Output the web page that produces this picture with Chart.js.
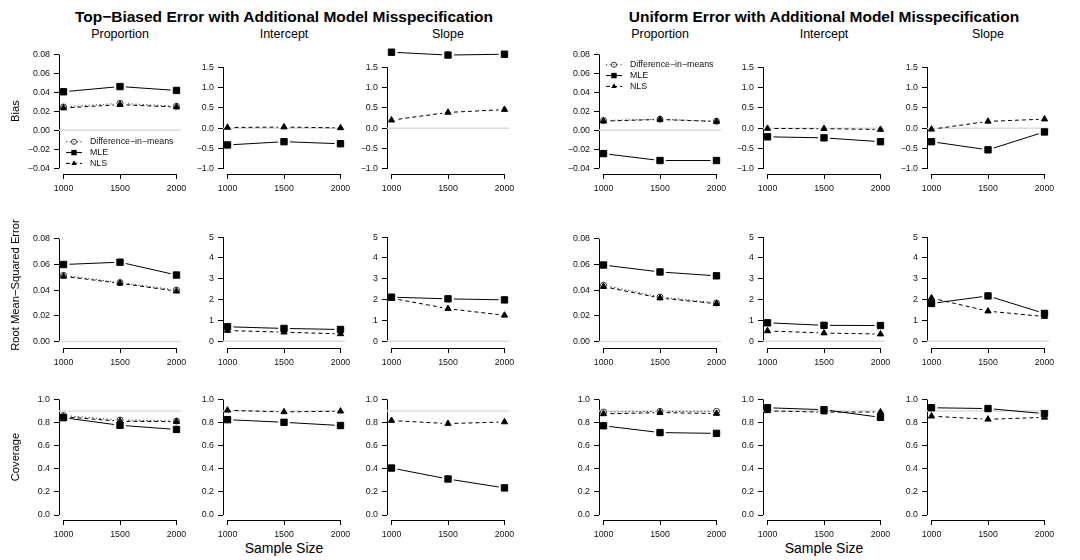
<!DOCTYPE html>
<html>
<head>
<meta charset="utf-8">
<script src="https://cdn.jsdelivr.net/npm/chart.js@4.4.1/dist/chart.umd.min.js"></script>
<style>
  body { margin: 0; background: #fff; }
  #page { position: relative; width: 1080px; height: 560px; overflow: hidden; font-family: "Liberation Sans", Arial, Helvetica, sans-serif; color: #000; }
  #page canvas { position: absolute; }
  .lbl { position: absolute; white-space: nowrap; line-height: 1; transform: translate(-50%, -50%); }
  .main { font-weight: bold; font-size: 15.5px; }
  .col { font-size: 12.5px; }
  .row { font-size: 11.2px; transform: translate(-50%, -50%) rotate(-90deg); }
  .xlab { font-size: 14px; }
</style>
</head>
<body>
<div id="page"></div>
<script>
const sampleSizes = [1000, 1500, 2000];

const groupTitles = [
  "Top−Biased Error with Additional Model Misspecification",
  "Uniform Error with Additional Model Misspecification",
];
const columnTitles = ["Proportion", "Intercept", "Slope"];
const rowTitles = ["Bias", "Root Mean−Squared Error", "Coverage"];
const legendLabels = ["Difference−in−means", "MLE", "NLS"];

// top-biased error: bias
const topBiasPropDim = [0.0247, 0.0285, 0.0254];
const topBiasPropMle = [0.0407, 0.0462, 0.0421];
const topBiasPropNls = [0.0236, 0.0271, 0.0246];
const topBiasIntMle = [-0.41, -0.33, -0.38];
const topBiasIntNls = [0.02, 0.03, 0.01];
const topBiasSlopeMle = [1.87, 1.80, 1.82];
const topBiasSlopeNls = [0.20, 0.39, 0.46];
// top-biased error: rmse
const topRmsePropDim = [0.0516, 0.0459, 0.0401];
const topRmsePropMle = [0.0600, 0.0618, 0.0518];
const topRmsePropNls = [0.0508, 0.0454, 0.0392];
const topRmseIntMle = [0.70, 0.62, 0.57];
const topRmseIntNls = [0.52, 0.44, 0.36];
const topRmseSlopeMle = [2.12, 2.04, 1.99];
const topRmseSlopeNls = [2.07, 1.57, 1.25];
// top-biased error: coverage
const topCovPropDim = [0.862, 0.823, 0.814];
const topCovPropMle = [0.843, 0.777, 0.741];
const topCovPropNls = [0.851, 0.812, 0.809];
const topCovIntMle = [0.826, 0.803, 0.775];
const topCovIntNls = [0.907, 0.893, 0.899];
const topCovSlopeMle = [0.407, 0.312, 0.235];
const topCovSlopeNls = [0.818, 0.792, 0.806];

// uniform error: bias
const uniBiasPropDim = [0.0104, 0.0117, 0.0095];
const uniBiasPropMle = [-0.0245, -0.0318, -0.0318];
const uniBiasPropNls = [0.0098, 0.0115, 0.0094];
const uniBiasIntMle = [-0.21, -0.235, -0.33];
const uniBiasIntNls = [-0.005, -0.01, -0.03];
const uniBiasSlopeMle = [-0.33, -0.53, -0.09];
const uniBiasSlopeNls = [-0.025, 0.17, 0.225];
// uniform error: rmse
const uniRmsePropDim = [0.0439, 0.0347, 0.0301];
const uniRmsePropMle = [0.0596, 0.0542, 0.0512];
const uniRmsePropNls = [0.0428, 0.0339, 0.0295];
const uniRmseIntMle = [0.89, 0.77, 0.76];
const uniRmseIntNls = [0.50, 0.40, 0.35];
const uniRmseSlopeMle = [1.82, 2.18, 1.34];
const uniRmseSlopeNls = [2.08, 1.45, 1.19];
// uniform error: coverage
const uniCovPropDim = [0.892, 0.898, 0.898];
const uniCovPropMle = [0.773, 0.714, 0.707];
const uniCovPropNls = [0.876, 0.887, 0.879];
const uniCovIntMle = [0.929, 0.912, 0.846];
const uniCovIntNls = [0.902, 0.891, 0.892];
const uniCovSlopeMle = [0.929, 0.922, 0.878];
const uniCovSlopeNls = [0.856, 0.829, 0.846];

const propBiasTicks = [-0.04, -0.02, 0, 0.02, 0.04, 0.06, 0.08];
const coefBiasTicks = [-1, -0.5, 0, 0.5, 1, 1.5];
const propRmseTicks = [0, 0.02, 0.04, 0.06, 0.08];
const coefRmseTicks = [0, 1, 2, 3, 4, 5];
const coverageTicks = [0, 0.2, 0.4, 0.6, 0.8, 1];
const referenceLines = [0, 0, 0.9]; // bias, rmse, nominal coverage

// [group][row][column] -> [diff-in-means, mle, nls]
const panelSeries = [
  [
    [[topBiasPropDim, topBiasPropMle, topBiasPropNls], [null, topBiasIntMle, topBiasIntNls], [null, topBiasSlopeMle, topBiasSlopeNls]],
    [[topRmsePropDim, topRmsePropMle, topRmsePropNls], [null, topRmseIntMle, topRmseIntNls], [null, topRmseSlopeMle, topRmseSlopeNls]],
    [[topCovPropDim, topCovPropMle, topCovPropNls], [null, topCovIntMle, topCovIntNls], [null, topCovSlopeMle, topCovSlopeNls]],
  ],
  [
    [[uniBiasPropDim, uniBiasPropMle, uniBiasPropNls], [null, uniBiasIntMle, uniBiasIntNls], [null, uniBiasSlopeMle, uniBiasSlopeNls]],
    [[uniRmsePropDim, uniRmsePropMle, uniRmsePropNls], [null, uniRmseIntMle, uniRmseIntNls], [null, uniRmseSlopeMle, uniRmseSlopeNls]],
    [[uniCovPropDim, uniCovPropMle, uniCovPropNls], [null, uniCovIntMle, uniCovIntNls], [null, uniCovSlopeMle, uniCovSlopeNls]],
  ],
];

// y-axis setup per row: [proportion column, coefficient columns]
const yAxes = [
  [{ min: -0.046, max: 0.0855, ticks: propBiasTicks, digits: 2 }, { min: -1.124, max: 1.942, ticks: coefBiasTicks, digits: 1 }],
  [{ min: -0.005, max: 0.0921, ticks: propRmseTicks, digits: 2 }, { min: -0.318, max: 5.665, ticks: coefRmseTicks, digits: 0 }],
  [{ min: -0.043, max: 1.037, ticks: coverageTicks, digits: 1 }, { min: -0.043, max: 1.037, ticks: coverageTicks, digits: 1 }],
];

const FONT = '"Liberation Sans", Arial, Helvetica, sans-serif';
const PLOT_W = 122, PLOT_H = 126;
const Y_AXIS_W = 45, PAD_TOP = 8, PAD_RIGHT = 14, X_AXIS_H = 24;
const colLefts = [59, 223, 387];
const rowTops = [48, 222, 394];
const groupOffsets = [0, 540];
const GAP = 6;

const seriesStyle = [
  { dash: [1.2, 2.4], color: "#333", point: "circle", radius: 3, fill: "rgba(255,255,255,0)" },
  { dash: [], color: "#000", point: "rect", radius: 4.5, fill: "#000" },
  { dash: [4, 3], color: "#000", point: "triangle", radius: 3.6, fill: "#000" },
];

// R type="b": line segments stop short of the points
const gapClip = {
  id: "gapClip",
  beforeDatasetDraw(chart, args) {
    if (!chart.data.datasets[args.index].gapped) return;
    const ctx = chart.ctx;
    ctx.save();
    ctx.beginPath();
    ctx.rect(0, 0, chart.width, chart.height);
    args.meta.data.forEach((pt) => {
      ctx.moveTo(pt.x + GAP, pt.y);
      ctx.arc(pt.x, pt.y, GAP, 0, Math.PI * 2);
    });
    ctx.clip("evenodd");
  },
  afterDatasetDraw(chart, args) {
    if (chart.data.datasets[args.index].gapped) chart.ctx.restore();
  },
};

// axis lines only span first..last tick, like base R
const rAxes = {
  id: "rAxes",
  beforeDatasetsDraw(chart) {
    const { ctx, chartArea, scales } = chart;
    const yt = scales.y.ticks;
    const xt = scales.x.ticks;
    const ax = Math.round(chartArea.left) + 0.5;
    const ay = Math.round(chartArea.bottom) + 0.5;
    ctx.save();
    ctx.strokeStyle = "#000";
    ctx.lineWidth = 1;
    ctx.beginPath();
    ctx.moveTo(ax, scales.y.getPixelForValue(yt[0].value));
    ctx.lineTo(ax, scales.y.getPixelForValue(yt[yt.length - 1].value));
    ctx.moveTo(scales.x.getPixelForValue(xt[0].value), ay);
    ctx.lineTo(scales.x.getPixelForValue(xt[xt.length - 1].value), ay);
    ctx.stroke();
    ctx.restore();
  },
};

function drawMarker(ctx, st, x, y, r) {
  ctx.beginPath();
  if (st.point === "circle") {
    ctx.arc(x, y, r, 0, Math.PI * 2);
    ctx.stroke();
  } else if (st.point === "rect") {
    const s = r * Math.SQRT1_2;
    ctx.fillRect(x - s, y - s, 2 * s, 2 * s);
  } else {
    ctx.moveTo(x, y - r);
    ctx.lineTo(x + r * 0.866, y + r * 0.5);
    ctx.lineTo(x - r * 0.866, y + r * 0.5);
    ctx.closePath();
    ctx.fill();
  }
}

const rLegend = {
  id: "rLegend",
  afterDraw(chart, args, opts) {
    if (!opts || opts.top == null) return;
    const { ctx, chartArea } = chart;
    legendLabels.forEach((label, i) => {
      const st = seriesStyle[i];
      const y = chartArea.top + opts.top + i * 10.8;
      const x0 = chartArea.left + 7;
      const x1 = chartArea.left + 23;
      ctx.save();
      ctx.strokeStyle = st.color;
      ctx.lineWidth = 1;
      ctx.setLineDash(st.dash);
      ctx.beginPath();
      ctx.moveTo(x0, y);
      ctx.lineTo(x1, y);
      ctx.stroke();
      ctx.setLineDash([]);
      ctx.fillStyle = st.color;
      drawMarker(ctx, st, (x0 + x1) / 2, y, st.radius * 0.85);
      ctx.fillStyle = "#111";
      ctx.font = `8.8px ${FONT}`;
      ctx.textBaseline = "middle";
      ctx.fillText(label, chartArea.left + 31, y);
      ctx.restore();
    });
  },
};

function fmt(v, digits) {
  return v.toFixed(digits).replace("-", "−");
}

function buildDatasets(seriesList, ref) {
  const sets = [{
    data: [{ x: 960, y: ref }, { x: 2040, y: ref }],
    borderColor: "#dcdcdc",
    borderWidth: 1.5,
    pointRadius: 0,
    order: 10,
  }];
  seriesList.forEach((values, i) => {
    if (!values) return;
    const st = seriesStyle[i];
    const pts = sampleSizes.map((x, k) => ({ x, y: values[k] }));
    sets.push({
      data: pts,
      borderColor: st.color,
      borderWidth: 1,
      borderDash: st.dash,
      pointRadius: 0,
      gapped: true,
      clip: false,
      order: 5,
    });
    sets.push({
      data: pts,
      showLine: false,
      pointStyle: st.point,
      pointRadius: st.radius,
      pointBackgroundColor: st.fill,
      pointBorderColor: st.color,
      pointBorderWidth: 1,
      clip: false,
      order: 3 - i,
    });
  });
  return sets;
}

function tickFont() {
  return { family: FONT, size: 8.8 };
}

function makePanel(page, g, r, c) {
  const axis = yAxes[r][c === 0 ? 0 : 1];
  const canvas = document.createElement("canvas");
  const w = Y_AXIS_W + PLOT_W + PAD_RIGHT;
  const h = PAD_TOP + PLOT_H + X_AXIS_H;
  canvas.width = w;
  canvas.height = h;
  canvas.style.width = w + "px";
  canvas.style.height = h + "px";
  canvas.style.left = (groupOffsets[g] + colLefts[c] - Y_AXIS_W) + "px";
  canvas.style.top = (rowTops[r] - PAD_TOP) + "px";
  page.appendChild(canvas);

  let legendOpts = false;
  if (r === 0 && c === 0) legendOpts = { top: g === 0 ? 92.5 : 15.5 };

  new Chart(canvas.getContext("2d"), {
    type: "line",
    data: { datasets: buildDatasets(panelSeries[g][r][c], referenceLines[r]) },
    options: {
      responsive: false,
      animation: false,
      devicePixelRatio: 1,
      layout: { padding: { top: PAD_TOP, right: PAD_RIGHT, left: 0, bottom: 0 } },
      plugins: { legend: { display: false }, tooltip: { enabled: false }, rLegend: legendOpts },
      scales: {
        x: {
          type: "linear",
          min: 960,
          max: 2040,
          afterBuildTicks: (s) => { s.ticks = sampleSizes.map((v) => ({ value: v })); },
          afterFit: (s) => { s.height = X_AXIS_H; },
          grid: { drawOnChartArea: false, tickLength: 5, color: "#000", tickWidth: 1 },
          border: { display: false },
          ticks: { autoSkip: false, maxRotation: 0, minRotation: 0, padding: 4, color: "#111", font: tickFont(), callback: (v) => String(v) },
        },
        y: {
          type: "linear",
          min: axis.min,
          max: axis.max,
          afterBuildTicks: (s) => { s.ticks = axis.ticks.map((v) => ({ value: v })); },
          afterFit: (s) => { s.width = Y_AXIS_W; },
          grid: { drawOnChartArea: false, tickLength: 5, color: "#000", tickWidth: 1 },
          border: { display: false },
          ticks: { autoSkip: false, padding: 4, color: "#111", font: tickFont(), callback: (v) => fmt(v, axis.digits) },
        },
      },
    },
    plugins: [gapClip, rAxes, rLegend],
  });
}

function addLabel(page, cls, text, x, y) {
  const el = document.createElement("div");
  el.className = "lbl " + cls;
  el.textContent = text;
  el.style.left = x + "px";
  el.style.top = y + "px";
  page.appendChild(el);
}

const page = document.getElementById("page");
groupTitles.forEach((title, g) => {
  const off = groupOffsets[g];
  addLabel(page, "main", title, off + 284, 17);
  columnTitles.forEach((t, c) => addLabel(page, "col", t, off + colLefts[c] + PLOT_W / 2, 33.5));
  addLabel(page, "xlab", "Sample Size", off + colLefts[1] + PLOT_W / 2, 548);
  for (let r = 0; r < 3; r++) {
    for (let c = 0; c < 3; c++) makePanel(page, g, r, c);
  }
});
rowTitles.forEach((t, r) => addLabel(page, "row", t, 16, rowTops[r] + PLOT_H / 2));
</script>
</body>
</html>
